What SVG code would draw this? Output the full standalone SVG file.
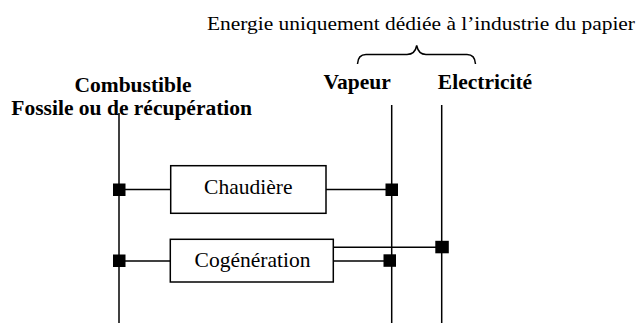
<svg xmlns="http://www.w3.org/2000/svg" width="637" height="323" viewBox="0 0 637 323">
<style>
.ln{stroke:#000;stroke-width:1.5;fill:none}
.bx{fill:#fff;stroke:#000;stroke-width:1.5}
.sq{fill:#000}
.t{font-family:"Liberation Serif",serif;fill:#000}
.b{font-family:"Liberation Serif",serif;font-weight:bold;fill:#000;font-size:21.5px}
</style>
<rect width="637" height="323" fill="#fff"/>
<text class="t" x="207" y="30" font-size="19.5" textLength="428" lengthAdjust="spacingAndGlyphs">Energie uniquement dédiée à l’industrie du papier</text>
<path class="ln" d="M357.5,64 Q358,54.5 366,54.5 L407,54.5 Q415,54.5 416.7,45.5 Q418.5,54.5 426,54.5 L467,54.5 Q475,54.5 475.5,64"/>
<text class="b" x="357.2" y="89" text-anchor="middle">Vapeur</text>
<text class="b" x="485" y="89" text-anchor="middle">Electricité</text>
<text class="b" x="133" y="92" text-anchor="middle">Combustible</text>
<text class="b" x="131.7" y="115" text-anchor="middle">Fossile ou de récupération</text>
<g id="connectors">
<line class="ln" x1="119" y1="113" x2="119" y2="323"/>
<line class="ln" x1="391.7" y1="105" x2="391.7" y2="323"/>
<line class="ln" x1="441.7" y1="105" x2="441.7" y2="323"/>
<line class="ln" x1="119" y1="189.5" x2="171" y2="189.5"/>
<line class="ln" x1="326" y1="189.5" x2="391.7" y2="189.5"/>
<line class="ln" x1="119" y1="261" x2="170.5" y2="261"/>
<line class="ln" x1="333" y1="247.3" x2="441.7" y2="247.3"/>
<line class="ln" x1="333" y1="261" x2="391.7" y2="261"/>
<rect class="sq" x="113" y="183.5" width="12.5" height="12.5"/>
<rect class="sq" x="385.5" y="183.5" width="12.5" height="12.5"/>
<rect class="sq" x="113" y="254.5" width="12.5" height="12.5"/>
<rect class="sq" x="383.5" y="254.3" width="12.5" height="12.5"/>
<rect class="sq" x="435.3" y="240.8" width="13.5" height="12.5"/>
</g>
<g id="chaudiere">
<rect class="bx" x="170.7" y="165.7" width="155.3" height="47.6"/>
<text class="t" x="248.3" y="194" font-size="21.5" text-anchor="middle">Chaudière</text>
</g>
<g id="cogeneration">
<rect class="bx" x="170.3" y="239.3" width="163" height="42.7"/>
<text class="t" x="252.5" y="266.5" font-size="21.5" text-anchor="middle">Cogénération</text>
</g>
</svg>
